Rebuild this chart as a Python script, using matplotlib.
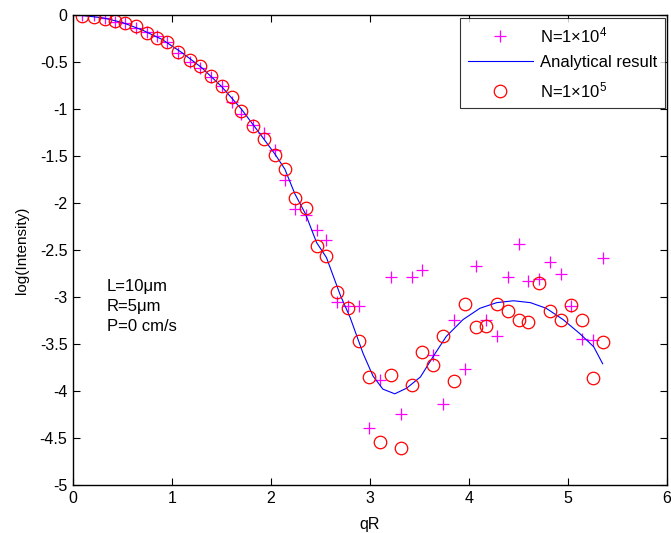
import matplotlib
matplotlib.use("Agg")
import matplotlib.pyplot as plt

plt.rcParams['font.family'] = ['Liberation Sans', 'DejaVu Sans']
plt.rcParams['mathtext.fontset'] = 'custom'
plt.rcParams['mathtext.rm'] = 'Liberation Sans'
plt.rcParams['mathtext.it'] = 'Liberation Sans'

# N=1e4 simulation (plus markers)
x_n4 = [0.09, 0.21, 0.32, 0.42, 0.53, 0.64, 0.75, 0.85, 0.95, 1.06,
        1.18, 1.28, 1.39, 1.50, 1.61, 1.70, 1.82, 1.93, 2.04, 2.14,
        2.24, 2.35, 2.46, 2.56, 2.67, 2.78, 2.89, 2.99, 3.10, 3.21,
        3.31, 3.42, 3.53, 3.64, 3.74, 3.85, 3.96, 4.07, 4.17, 4.28,
        4.39, 4.50, 4.60, 4.71, 4.82, 4.93, 5.03, 5.14, 5.25, 5.35]
y_n4 = [-0.00, -0.00, -0.03, -0.07, -0.09, -0.14, -0.18, -0.22, -0.29, -0.40,
        -0.50, -0.56, -0.66, -0.76, -0.93, -1.05, -1.17, -1.26, -1.44, -1.75,
        -2.06, -2.13, -2.29, -2.39, -3.05, -3.10, -3.10, -4.39, -3.88, -2.79,
        -4.24, -2.79, -2.71, -3.62, -4.14, -3.24, -3.77, -2.67, -3.24, -3.42,
        -2.79, -2.44, -2.83, -2.81, -2.63, -2.75, -3.10, -3.45, -3.46, -2.59]

# N=1e5 simulation (circle markers)
x_n5 = x_n4
y_n5 = [-0.01, -0.02, -0.04, -0.06, -0.09, -0.12, -0.19, -0.24, -0.29, -0.39,
        -0.48, -0.54, -0.65, -0.76, -0.87, -1.02, -1.18, -1.32, -1.49, -1.64,
        -1.95, -2.05, -2.46, -2.56, -2.95, -3.12, -3.47, -3.85, -4.54, -3.83,
        -4.61, -3.94, -3.59, -3.72, -3.42, -3.89, -3.07, -3.32, -3.31, -3.07,
        -3.15, -3.24, -3.27, -2.85, -3.15, -3.24, -3.09, -3.24, -3.86, -3.48]

x_an = [0.09, 0.30, 0.50, 0.70, 0.90, 1.10, 1.30, 1.50, 1.70, 1.90,
        2.04, 2.14, 2.24, 2.35, 2.46, 2.56, 2.70, 2.80, 2.93, 3.03,
        3.13, 3.25, 3.37, 3.51, 3.64, 3.77, 3.94, 4.11, 4.28, 4.45,
        4.62, 4.78, 4.95, 5.12, 5.26, 5.35]
y_an = [-0.005, -0.03, -0.08, -0.16, -0.26, -0.40, -0.56, -0.76, -1.00, -1.28,
        -1.48, -1.64, -1.90, -2.12, -2.42, -2.58, -2.98, -3.22, -3.60, -3.84,
        -3.98, -4.03, -3.97, -3.85, -3.63, -3.42, -3.24, -3.12, -3.06, -3.04,
        -3.06, -3.12, -3.24, -3.39, -3.53, -3.71]

xticks = [0, 1, 2, 3, 4, 5, 6]
yticks = [0, -0.5, -1, -1.5, -2, -2.5, -3, -3.5, -4, -4.5, -5]
ytick_labels = ['0', '-0.5', '-1', '-1.5', '-2', '-2.5', '-3', '-3.5', '-4', '-4.5', '-5']

fig = plt.figure(figsize=(6.71, 5.33), dpi=100)
ax = fig.add_axes([73/671, 1-485/533, (667-73)/671, 470/533])

ax.plot(x_n4, y_n4, linestyle='none', marker='+', color='#ff00ff',
        markersize=9, markeredgewidth=0.9, label=r'N=1×10$^{4}$')
ax.plot(x_an, y_an, color='#0000ff', linewidth=0.8, label='Analytical result')
ax.plot(x_n5, y_n5, linestyle='none', marker='o', color='#ff0000',
        markerfacecolor='none', markersize=9, markeredgewidth=0.9,
        label=r'N=1×10$^{5}$')

ax.set_xlim(0, 6)
ax.set_ylim(-5, 0)
ax.set_xticks(xticks)
ax.set_xticklabels([str(t) for t in xticks])
ax.set_yticks(yticks)
ax.set_yticklabels(ytick_labels)
ax.tick_params(direction='in', top=True, right=True, labelsize=11.5,
               length=5, width=0.8, pad=4)
for s in ax.spines.values():
    s.set_linewidth(1.0)

ax.set_xlabel('qR', fontsize=11.5, labelpad=8)
ax.set_ylabel('log(Intensity)', fontsize=11, labelpad=8)

ax.text(0.34, -3.10, 'L=10μm\nR=5μm\nP=0 cm/s', fontsize=12,
        va='center', ha='left', linespacing=1.4)

leg = ax.legend(loc='upper right', bbox_to_anchor=(0.997, 0.994), fontsize=12,
                frameon=True, fancybox=False, edgecolor='black',
                borderaxespad=0.0, handlelength=3.9, labelspacing=0.6,
                borderpad=0.45, handletextpad=0.45)
leg.get_frame().set_linewidth(0.8)

fig.savefig('out.png', dpi=100)
